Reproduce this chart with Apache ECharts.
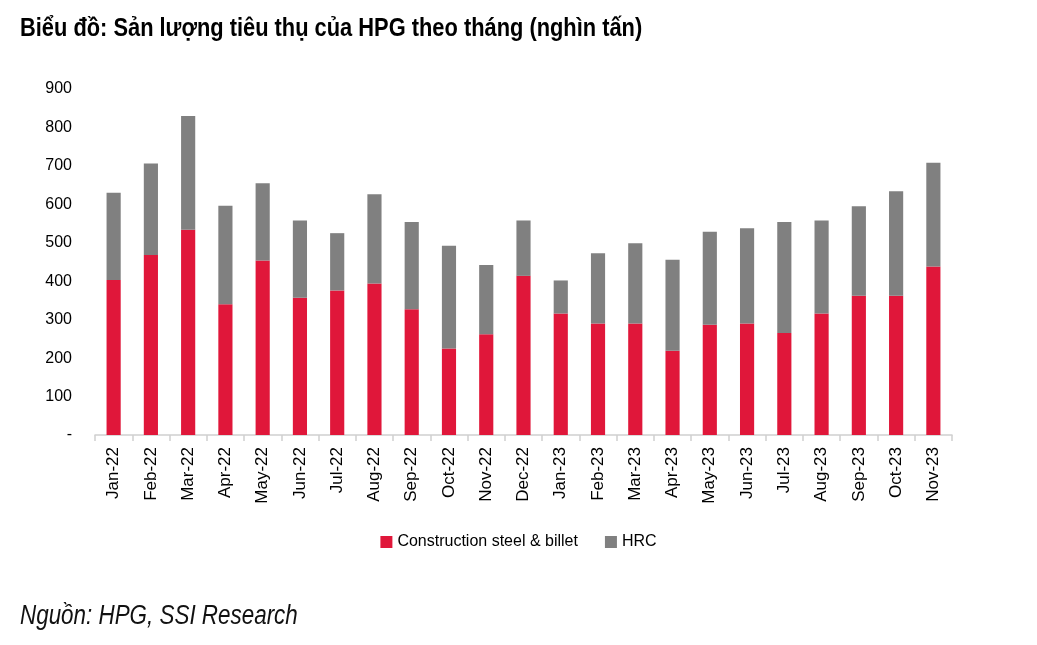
<!DOCTYPE html>
<html>
<head>
<meta charset="utf-8">
<script src="https://cdn.jsdelivr.net/npm/echarts@6/dist/echarts.min.js"></script>
<style>
html,body{margin:0;padding:0;background:#fff;}
#c{width:1037px;height:645px;}
</style>
</head>
<body>
<div id="c"></div>
<script>
const categories = ["Jan-22","Feb-22","Mar-22","Apr-22","May-22","Jun-22","Jul-22","Aug-22","Sep-22","Oct-22","Nov-22","Dec-22","Jan-23","Feb-23","Mar-23","Apr-23","May-23","Jun-23","Jul-23","Aug-23","Sep-23","Oct-23","Nov-23"];
const constructionSteel = [403,468,534,340,454,357,376,394,327,225,262,414,316,290,290,219,287,290,265,316,362,362,438];
const hrc = [227,238,296,256,201,201,149,232,227,267,180,144,86,183,209,237,242,248,289,242,233,272,270];
const yTicks = [0,100,200,300,400,500,600,700,800,900];
const titleText = 'Biểu đồ: Sản lượng tiêu thụ của HPG theo tháng (nghìn tấn)';
const sourceText = 'Nguồn: HPG, SSI Research';

const chart = echarts.init(document.getElementById('c'));
const sans = '"Liberation Sans",Arial,sans-serif';
chart.setOption({
  animation:false,
  backgroundColor:'#fff',
  graphic:[
    {type:'text', x:20, y:16, scaleX:0.84, scaleY:1,
     style:{text:titleText, fontFamily:sans, fontWeight:'bold', fontSize:26, fill:'#000'}},
    {type:'text', x:20, y:603, scaleX:0.83, scaleY:1,
     style:{text:sourceText, fontFamily:sans, fontStyle:'italic', fontSize:27, fill:'#111'}}
  ],
  legend:{
    data:['Construction steel & billet','HRC'],
    left:'center', top:529, itemWidth:12, itemHeight:12, itemGap:27,
    icon:'rect',
    textStyle:{fontFamily:sans, fontSize:16, color:'#000'}
  },
  grid:{left:95, right:85, top:89, bottom:210},
  xAxis:{
    type:'category', data:categories,
    axisLine:{lineStyle:{color:'#d0d0d0', width:1.5}},
    axisTick:{show:true, length:6, lineStyle:{color:'#d0d0d0', width:1.5}},
    axisLabel:{rotate:90, margin:12, fontFamily:sans, fontSize:17, color:'#000'}
  },
  yAxis:{
    type:'value', min:yTicks[0], max:yTicks[yTicks.length-1], interval:100,
    splitLine:{show:false}, axisLine:{show:false}, axisTick:{show:false},
    axisLabel:{margin:23, fontFamily:sans, fontSize:16, color:'#000',
      formatter:v=> v===0 ? '-' : String(v)}
  },
  series:[
    {name:'Construction steel & billet', type:'bar', stack:'t', data:constructionSteel,
     barWidth:'38%', itemStyle:{color:'#E0173A'}},
    {name:'HRC', type:'bar', stack:'t', data:hrc,
     itemStyle:{color:'#808080'}}
  ]
});
</script>
</body>
</html>
